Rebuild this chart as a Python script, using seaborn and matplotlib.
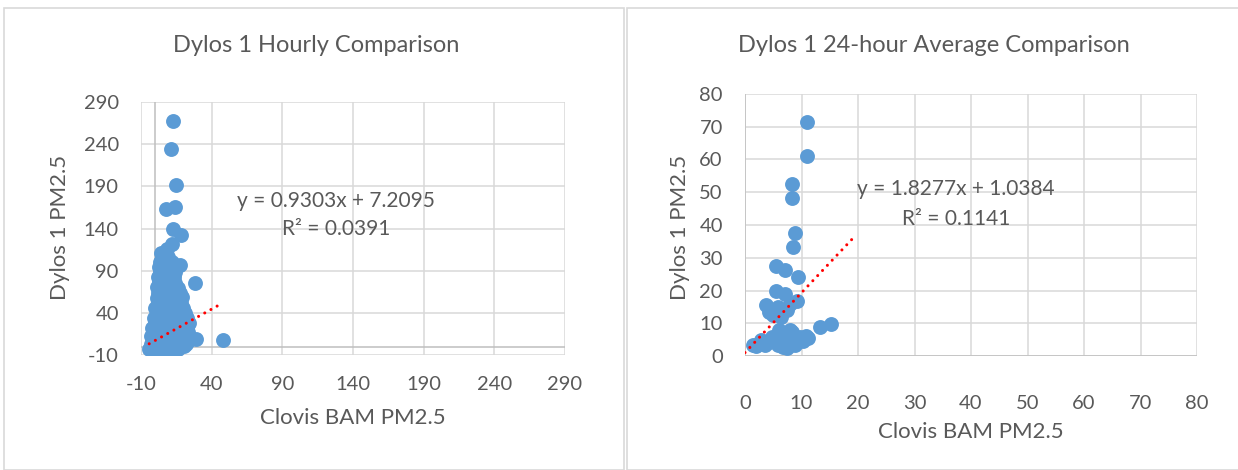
import matplotlib
matplotlib.use("Agg")
import matplotlib.pyplot as plt
import seaborn as sns
import pandas as pd
from matplotlib.patches import Rectangle

# --- data ---
# hourly comparison (Clovis BAM vs Dylos 1), listed roughly row by row from the bottom up
HOURLY_BAM = [
    -4.2, 0.5, 4.0, 8.3, 12.1, 16.4,
    -2.0, 2.2, 6.1, 10.4, 14.0, 18.2, 20.1,
    -3.1, 1.0, 5.2, 9.1, 13.3, 17.0, 21.8,
    -1.2, 3.1, 7.0, 11.2, 15.1, 19.0, 23.0, 28.7, 48.0,
    -3.0, 1.3, 5.0, 9.2, 13.0, 17.1, 21.0,
    -1.0, 3.0, 7.2, 11.0, 15.3, 19.2, 23.4,
    -2.1, 2.0, 6.0, 10.1, 14.2, 18.0, 22.2,
    0.1, 4.1, 8.0, 12.0, 16.1, 20.0, 24.0,
    -0.8, 3.2, 7.1, 11.3, 15.0, 19.1, 22.4,
    1.0, 5.1, 9.0, 13.2, 17.0, 21.2,
    0.2, 4.0, 8.1, 12.2, 16.0, 20.0,
    2.0, 6.2, 10.0, 14.1, 18.0,
    1.2, 5.0, 9.2, 13.0, 17.1, 19.0,
    2.1, 6.0, 10.2, 14.0, 17.8,
    1.4, 5.2, 9.0, 13.1, 16.0,
    3.0, 7.1, 11.0, 14.2, 28.0,
    2.2, 6.0, 10.1, 13.0,
    3.1, 7.0, 11.2, 14.1,
    2.4, 6.2, 10.0, 15.0, 17.5,
    3.2, 8.0, 12.1,
    5.0, 9.1, 4.3, 8.2, 11.6,
    18.6, 12.8, 7.9, 13.9, 14.5, 11.0, 12.4,
]
HOURLY_DYLOS = [
    -3.0, -2.5, -3.2, -2.8, -3.0, -2.4,
    0.3, 0.8, 0.2, 0.6, 0.1, 0.9, 0.4,
    3.2, 3.5, 2.9, 3.4, 3.1, 3.0, 3.6,
    7.1, 6.8, 7.3, 6.9, 7.2, 7.0, 6.6, 9.5, 8.0,
    12.2, 11.8, 12.4, 12.0, 11.6, 12.3, 12.1,
    17.0, 16.6, 17.4, 16.8, 17.2, 16.9, 17.3,
    22.3, 21.8, 22.1, 22.6, 21.9, 22.4, 22.0,
    28.1, 27.6, 28.4, 27.9, 28.2, 27.7, 28.0,
    34.2, 33.8, 34.4, 34.0, 33.6, 34.1, 33.9,
    40.1, 39.7, 40.4, 40.0, 39.8, 40.2,
    46.0, 45.6, 46.3, 45.9, 46.1, 45.8,
    52.2, 51.8, 52.0, 52.4, 51.9,
    58.1, 57.8, 58.3, 58.0, 57.6, 58.2,
    64.0, 63.7, 64.3, 63.9, 64.1,
    70.2, 69.8, 70.0, 70.3, 69.7,
    76.1, 75.8, 76.2, 75.9, 75.7,
    82.0, 81.7, 82.3, 81.9,
    88.2, 87.8, 88.0, 88.3,
    94.0, 93.7, 94.2, 93.9, 97.0,
    100.2, 99.8, 100.0,
    106.1, 105.8, 110.5, 116.0, 122.0,
    132.0, 139.0, 162.6, 165.8, 192.0, 234.0, 268.0,
]
HOURLY_TREND_X = [-4.2, 45.0]
HOURLY_SLOPE, HOURLY_INTERCEPT, HOURLY_R2 = 0.9303, 7.2095, 0.0391

# 24-hour averages
DAILY_BAM = [
    11.0, 10.9, 8.4, 8.3, 8.9, 8.5, 5.5, 7.1, 9.4,
    5.4, 7.1, 9.2, 8.0, 3.7, 5.9, 5.0, 6.3, 4.2, 7.4,
    13.2, 15.2,
    1.5, 2.0, 2.9, 3.5, 4.7, 5.9, 6.5, 7.4, 7.7, 8.3, 8.8, 9.7,
    11.2, 10.3, 6.0, 5.2, 4.2, 9.0, 7.0, 8.0, 6.8, 10.8,
]
DAILY_DYLOS = [
    71.4, 61.2, 52.4, 48.3, 37.5, 33.3, 27.4, 26.3, 24.2,
    19.8, 18.8, 16.8, 15.8, 15.5, 15.1, 12.4, 12.0, 13.4, 14.0,
    9.0, 9.9,
    3.4, 3.0, 4.9, 3.4, 5.9, 3.4, 6.9, 2.3, 4.9, 7.4, 3.4, 5.9,
    5.4, 4.5, 8.0, 5.0, 4.2, 4.5, 6.0, 8.0, 2.6, 6.2,
]
DAILY_TREND_X = [0.0, 19.4]
DAILY_SLOPE, DAILY_INTERCEPT, DAILY_R2 = 1.8277, 1.0384, 0.1141

HOURLY_TICKS = [-10, 40, 90, 140, 190, 240, 290]
DAILY_TICKS = [0, 10, 20, 30, 40, 50, 60, 70, 80]

DOT = "#5B9BD5"
TEXT = "#595959"
GRID = "#D9D9D9"
AXIS = "#BFBFBF"

sns.set_theme(style="white")
plt.rcParams["font.family"] = ["Lato", "DejaVu Sans"]
plt.rcParams["axes.unicode_minus"] = False

fig = plt.figure(figsize=(12.38, 4.70), dpi=100)
W, H = 1238, 470

# chart area borders
fig.patches.append(Rectangle((4 / W, 0), 620 / W, 1 - 8 / H, transform=fig.transFigure,
                             fill=False, edgecolor=GRID, linewidth=1.2))
fig.patches.append(Rectangle((627 / W, 0), 620 / W, 1 - 8 / H, transform=fig.transFigure,
                             fill=False, edgecolor=GRID, linewidth=1.2))

ax1 = fig.add_axes([141 / W, 115 / H, 424 / W, 253 / H])
ax2 = fig.add_axes([745 / W, 114 / H, 452 / W, 262 / H])

hourly = pd.DataFrame({"bam": HOURLY_BAM, "dylos": HOURLY_DYLOS})
daily = pd.DataFrame({"bam": DAILY_BAM, "dylos": DAILY_DYLOS})


def style_axes(ax, ticks, xpad, ypad):
    ax.set_xlim(ticks[0], ticks[-1])
    ax.set_ylim(ticks[0], ticks[-1])
    ax.set_xticks(ticks)
    ax.set_yticks(ticks)
    for s in ax.spines.values():
        s.set_visible(False)
    ax.grid(True, color=GRID, linewidth=1.1)
    ax.set_axisbelow(True)
    ax.tick_params(axis="x", length=0, pad=xpad, labelsize=14.5, labelcolor=TEXT)
    ax.tick_params(axis="y", length=0, pad=ypad, labelsize=14.5, labelcolor=TEXT)
    # axis lines through zero
    ax.axhline(0, color=AXIS, linewidth=1.1, zorder=1)
    ax.axvline(0, color=AXIS, linewidth=1.1, zorder=1)


style_axes(ax1, HOURLY_TICKS, 15, 16)
style_axes(ax2, DAILY_TICKS, 28, 16)

for ax, df, tx, m, b, r2 in [
    (ax1, hourly, HOURLY_TREND_X, HOURLY_SLOPE, HOURLY_INTERCEPT, HOURLY_R2),
    (ax2, daily, DAILY_TREND_X, DAILY_SLOPE, DAILY_INTERCEPT, DAILY_R2),
]:
    sns.scatterplot(data=df, x="bam", y="dylos", ax=ax, color=DOT, s=115,
                    edgecolor=DOT, linewidth=0, alpha=1, zorder=3)
    ty = [m * x + b for x in tx]
    ax.plot(tx, ty, color="red", linewidth=2.2, linestyle=(0, (0.01, 2.3)),
            dash_capstyle="round", zorder=4)
    ax.set_xlabel("Clovis BAM PM2.5", fontsize=16, color=TEXT)
    ax.set_ylabel("Dylos 1 PM2.5", fontsize=16, color=TEXT)

ax1.xaxis.set_label_coords(0.5, -0.21)
ax1.yaxis.set_label_coords(-0.167, 0.506)
ax2.xaxis.set_label_coords(0.5, -0.252)
ax2.yaxis.set_label_coords(-0.122, 0.49)

ax1.text(0.46, 0.609, f"y = {HOURLY_SLOPE:.4f}x + {HOURLY_INTERCEPT:.4f}", transform=ax1.transAxes,
         ha="center", va="center", fontsize=15, color=TEXT)
ax1.text(0.46, 0.498, f"R² = {HOURLY_R2:.4f}", transform=ax1.transAxes,
         ha="center", va="center", fontsize=15, color=TEXT)
ax2.text(0.467, 0.637, f"y = {DAILY_SLOPE:.4f}x + {DAILY_INTERCEPT:.4f}", transform=ax2.transAxes,
         ha="center", va="center", fontsize=15, color=TEXT)
ax2.text(0.467, 0.523, f"R² = {DAILY_R2:.4f}", transform=ax2.transAxes,
         ha="center", va="center", fontsize=15, color=TEXT)

fig.text(316 / W, 1 - 45 / H, "Dylos 1 Hourly Comparison", ha="center", va="center",
         fontsize=17, color=TEXT)
fig.text(934 / W, 1 - 45 / H, "Dylos 1 24-hour Average Comparison", ha="center", va="center",
         fontsize=17, color=TEXT)

fig.savefig("out.png", dpi=100)
